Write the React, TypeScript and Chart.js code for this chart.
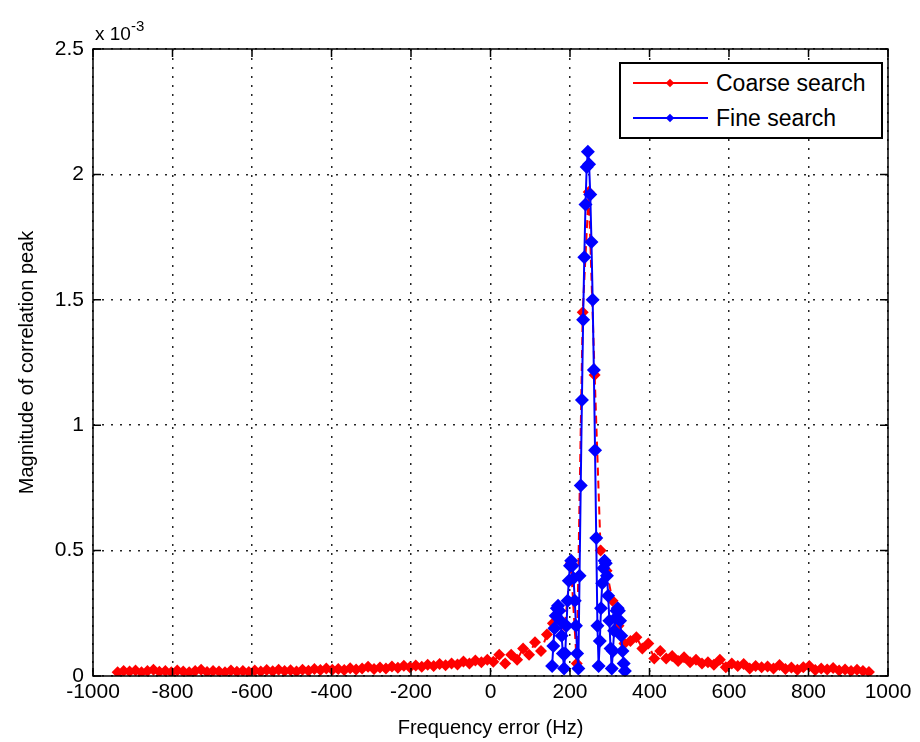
import React, { useEffect, useRef } from 'react';
import { Chart, registerables } from 'chart.js';

Chart.register(...registerables);

// Magnitudes are in units of 10^-3 (axis multiplier shown as "x 10^-3")
const coarseHz = [
  -938, -923, -908, -893, -878, -863, -848, -833, -818, -803,
  -788, -773, -758, -743, -728, -713, -698, -683, -668, -653,
  -638, -623, -608, -593, -578, -563, -548, -533, -518, -503,
  -488, -473, -458, -443, -428, -413, -398, -383, -368, -353,
  -338, -323, -308, -293, -278, -263, -248, -233, -218, -203,
  -188, -173, -158, -143, -128, -113, -98, -83, -68, -53,
  -38, -23, -8, 7, 22, 37, 52, 67, 82, 97,
  112, 127, 142, 157, 172, 187, 202, 217, 232, 247,
  262, 277, 292, 307, 322, 337, 352, 367, 382, 397,
  412, 427, 442, 457, 472, 487, 502, 517, 532, 547,
  562, 577, 592, 607, 622, 637, 652, 667, 682, 697,
  712, 727, 742, 757, 772, 787, 802, 817, 832, 847,
  862, 877, 892, 907, 922, 937, 952,
];
const coarseMag = [
  0.015, 0.02, 0.018, 0.022, 0.015, 0.02, 0.025, 0.017, 0.02, 0.015,
  0.022, 0.018, 0.015, 0.02, 0.025, 0.016, 0.02, 0.018, 0.015, 0.022,
  0.017, 0.02, 0.016, 0.022, 0.018, 0.024, 0.019, 0.025, 0.02, 0.023,
  0.018, 0.025, 0.021, 0.028, 0.024, 0.03, 0.025, 0.028, 0.024, 0.031,
  0.026, 0.03, 0.037, 0.028, 0.034, 0.03, 0.038, 0.033, 0.041, 0.035,
  0.042, 0.037, 0.045, 0.04, 0.048, 0.043, 0.05, 0.046, 0.058, 0.05,
  0.062, 0.055, 0.065, 0.057, 0.085, 0.05, 0.085, 0.065, 0.11, 0.085,
  0.135, 0.1, 0.165, 0.21, 0.26, 0.2, 0.45, 0.05, 1.45, 1.93,
  1.2, 0.5, 0.42, 0.3, 0.2, 0.13, 0.14, 0.155, 0.11, 0.13,
  0.07, 0.1, 0.07, 0.08, 0.06, 0.075, 0.055, 0.065, 0.05, 0.055,
  0.045, 0.065, 0.035, 0.05, 0.04, 0.048, 0.03, 0.04, 0.035, 0.038,
  0.03, 0.044, 0.028, 0.034, 0.025, 0.035, 0.04, 0.024, 0.03, 0.026,
  0.032, 0.022, 0.026, 0.02, 0.025, 0.02, 0.016,
];
const fineHz = [
  155, 158, 161, 164, 167, 170, 173, 176, 179, 182, 185,
  188, 191, 194, 197, 200, 203, 206, 209, 212, 215, 218,
  221, 224, 227, 230, 233, 236, 239, 242, 245, 248, 251, 254, 257, 260, 263, 266, 269, 272,
  275, 278, 281, 284, 287, 290, 293, 296, 299, 302, 305,
  308, 311, 314, 317, 320, 323, 326, 329, 332, 335, 338,
];
const fineMag = [
  0.04, 0.12, 0.19, 0.24, 0.27, 0.28, 0.26, 0.22, 0.16, 0.09, 0.03,
  0.09, 0.2, 0.3, 0.38, 0.44, 0.46, 0.44, 0.39, 0.3, 0.2, 0.09,
  0.03, 0.4, 0.76, 1.1, 1.42, 1.67, 1.88, 2.03, 2.09, 2.04, 1.92, 1.73, 1.5, 1.22, 0.9, 0.55, 0.2, 0.04,
  0.14, 0.27, 0.37, 0.43, 0.46, 0.45, 0.4, 0.32, 0.22, 0.11, 0.03,
  0.1, 0.18, 0.23, 0.26, 0.27, 0.26, 0.22, 0.16, 0.1, 0.05, 0.02,
];
const xTicks = [-1000, -800, -600, -400, -200, 0, 200, 400, 600, 800, 1000];
const yTicks = [0, 0.5, 1, 1.5, 2, 2.5];
const seriesLabels = ['Coarse search', 'Fine search'];
const seriesColors = ['#ff0000', '#0000ff'];
const xTitle = 'Frequency error (Hz)';
const yTitle = 'Magnitude of correlation peak';

const FONT = '"Liberation Sans", Arial, sans-serif';

const boxPlugin = {
  id: 'axesBox',
  afterDatasetsDraw(chart: any) {
    const { ctx, chartArea: a, scales } = chart;
    ctx.save();
    ctx.strokeStyle = '#000';
    ctx.lineWidth = 1.5;
    ctx.setLineDash([]);
    ctx.strokeRect(a.left, a.top, a.right - a.left, a.bottom - a.top);
    ctx.beginPath();
    const L = 8;
    scales.x.ticks.forEach((t: any) => {
      const px = scales.x.getPixelForValue(t.value);
      ctx.moveTo(px, a.bottom);
      ctx.lineTo(px, a.bottom - L);
      ctx.moveTo(px, a.top);
      ctx.lineTo(px, a.top + L);
    });
    scales.y.ticks.forEach((t: any) => {
      const py = scales.y.getPixelForValue(t.value);
      ctx.moveTo(a.left, py);
      ctx.lineTo(a.left + L, py);
      ctx.moveTo(a.right, py);
      ctx.lineTo(a.right - L, py);
    });
    ctx.stroke();
    ctx.restore();
  },
};

function LegendRow({ label, color, cy }: { label: string; color: string; cy: number }) {
  return (
    <div style={{ position: 'absolute', left: 0, right: 0, top: cy - 13, height: 26 }}>
      <div style={{ position: 'absolute', left: 12, top: 12, width: 75, height: 2, background: color }} />
      <div
        style={{
          position: 'absolute', left: 46, top: 10, width: 6, height: 6,
          background: color, transform: 'rotate(45deg)',
        }}
      />
      <div style={{ position: 'absolute', left: 95, top: 0, lineHeight: '26px', whiteSpace: 'nowrap' }}>{label}</div>
    </div>
  );
}

export default function App() {
  const ref = useRef<HTMLCanvasElement | null>(null);

  useEffect(() => {
    if (!ref.current) return;
    const gridStyle = {
      color: 'rgba(0,0,0,0.85)',
      lineWidth: 1.5,
      drawTicks: false,
    };
    const chart = new Chart(ref.current, {
      type: 'scatter',
      data: {
        datasets: [
          {
            label: seriesLabels[1],
            data: fineHz.map((x, i) => ({ x, y: fineMag[i] })),
            showLine: true,
            borderColor: seriesColors[1],
            backgroundColor: seriesColors[1],
            borderWidth: 2,
            pointStyle: 'rectRot',
            pointRadius: 7,
            pointBorderWidth: 0,
            order: 1,
          },
          {
            label: seriesLabels[0],
            data: coarseHz.map((x, i) => ({ x, y: coarseMag[i] })),
            showLine: true,
            borderColor: seriesColors[0],
            backgroundColor: seriesColors[0],
            borderWidth: 2,
            borderDash: [8, 5],
            pointStyle: 'rectRot',
            pointRadius: 6,
            pointBorderWidth: 0,
            order: 2,
          },
        ] as any,
      },
      options: {
        responsive: false,
        animation: false,
        layout: { padding: { left: 0, top: 49, right: 32, bottom: 0 } },
        plugins: { legend: { display: false }, tooltip: { enabled: false } },
        scales: {
          x: {
            type: 'linear',
            min: -1000,
            max: 1000,
            afterBuildTicks: (s: any) => { s.ticks = xTicks.map((v) => ({ value: v })); },
            afterFit: (s: any) => { s.height = 66; },
            ticks: {
              callback: (v: any) => String(v),
              color: '#000',
              font: { family: FONT, size: 21 },
              padding: 4,
              maxRotation: 0,
              autoSkip: false,
            },
            grid: gridStyle,
            border: { display: false, dash: [2, 7] },
            title: {
              display: true,
              text: xTitle,
              color: '#000',
              font: { family: FONT, size: 20 },
              padding: { top: 0, bottom: 2 },
            },
          },
          y: {
            type: 'linear',
            min: 0,
            max: 2.5,
            afterBuildTicks: (s: any) => { s.ticks = yTicks.map((v) => ({ value: v })); },
            afterFit: (s: any) => { s.width = 93; },
            ticks: {
              callback: (v: any) => String(v),
              color: '#000',
              font: { family: FONT, size: 21 },
              padding: 9,
            },
            grid: gridStyle,
            border: { display: false, dash: [2, 7] },
            title: {
              display: true,
              text: yTitle,
              color: '#000',
              font: { family: FONT, size: 20 },
              padding: { top: 15, bottom: 0 },
            },
          },
        },
      } as any,
      plugins: [boxPlugin],
    });
    return () => chart.destroy();
  }, []);

  return (
    <div style={{ position: 'absolute', left: 0, top: 0, width: 920, height: 742, background: '#fff', fontFamily: FONT, color: '#000' }}>
      <canvas ref={ref} width={920} height={742} style={{ display: 'block', width: 920, height: 742 }} />
      <div style={{ position: 'absolute', left: 95, top: 17, fontSize: 19, lineHeight: '22px', whiteSpace: 'nowrap' }}>
        x 10<sup style={{ fontSize: 15, position: 'relative', top: -2 }}>-3</sup>
      </div>
      <div
        style={{
          position: 'absolute', left: 619, top: 62, width: 260, height: 73,
          border: '2px solid #000', background: '#fff', fontSize: 23,
        }}
      >
        <LegendRow label={seriesLabels[0]} color={seriesColors[0]} cy={19} />
        <LegendRow label={seriesLabels[1]} color={seriesColors[1]} cy={54} />
      </div>
    </div>
  );
}
